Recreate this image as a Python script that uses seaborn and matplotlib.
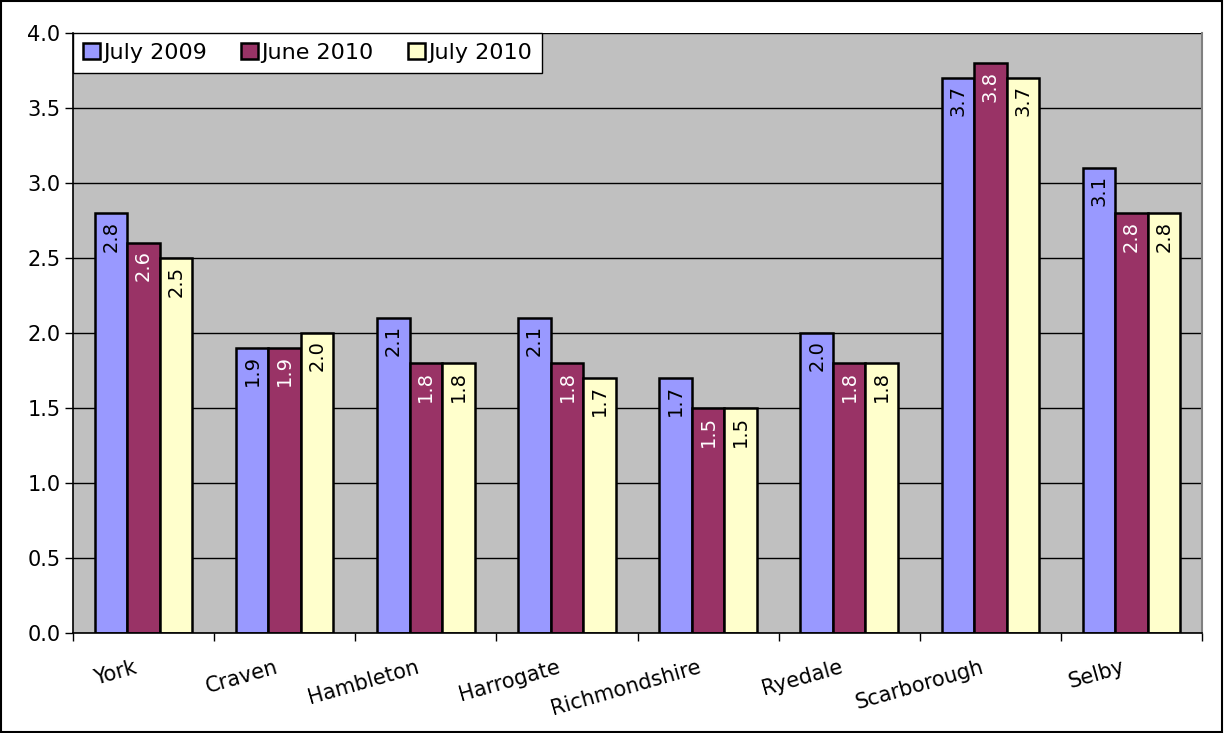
import matplotlib

matplotlib.use("Agg")
import matplotlib.pyplot as plt  # noqa: E402
import pandas as pd  # noqa: E402
import seaborn as sns  # noqa: E402
from matplotlib.patches import Rectangle  # noqa: E402

districts = ["York", "Craven", "Hambleton", "Harrogate", "Richmondshire",
             "Ryedale", "Scarborough", "Selby"]
periods = ["July 2009", "June 2010", "July 2010"]
july_2009 = [2.8, 1.9, 2.1, 2.1, 1.7, 2.0, 3.7, 3.1]
june_2010 = [2.6, 1.9, 1.8, 1.8, 1.5, 1.8, 3.8, 2.8]
july_2010 = [2.5, 2.0, 1.8, 1.7, 1.5, 1.8, 3.7, 2.8]
colors = ["#9999FF", "#993366", "#FFFFCC"]
label_colors = ["black", "white", "black"]

df = pd.DataFrame({
    "district": districts * 3,
    "period": [p for p in periods for _ in districts],
    "rate": july_2009 + june_2010 + july_2010,
})

sns.set_style("white")
plt.rcParams["font.family"] = ["DejaVu Sans"]
plt.rcParams["text.color"] = "black"
plt.rcParams["xtick.color"] = "black"
plt.rcParams["ytick.color"] = "black"

fig = plt.figure(figsize=(12.24, 7.33), dpi=100)
ax = fig.add_axes([73 / 1224, 100 / 733, (1202 - 73) / 1224, 600 / 733])
sns.barplot(data=df, x="district", y="rate", hue="period", order=districts,
            hue_order=periods, palette=colors, width=0.69, edgecolor="black",
            linewidth=1.8, saturation=1, ax=ax, legend=True)

ax.set_facecolor("#C0C0C0")
ax.set_ylim(0, 4.0)
ax.set_xlim(-0.5, len(districts) - 0.5)
ax.set_yticks([i * 0.5 for i in range(9)])
ax.set_yticklabels([f"{i * 0.5:.1f}" for i in range(9)], fontsize=15)
ax.yaxis.grid(True, color="black", linewidth=1)
ax.set_axisbelow(True)
ax.tick_params(axis="y", left=True, length=6, width=1, pad=3)

# category ticks sit between the groups
ax.set_xticks([i - 0.5 for i in range(len(districts) + 1)], minor=True)
ax.tick_params(axis="x", which="minor", bottom=True, length=6, width=1)
ax.tick_params(axis="x", which="major", bottom=False, pad=14)
ax.set_xticks([i - 0.07 for i in range(len(districts))])
ax.set_xticklabels(districts, fontsize=15, rotation=16, ha="right",
                   rotation_mode="anchor")
ax.set_xlabel("")
ax.set_ylabel("")

for side in ["left", "bottom"]:
    ax.spines[side].set_color("black")
    ax.spines[side].set_linewidth(1.2)
ax.spines["right"].set_color("#808080")
ax.spines["right"].set_linewidth(1.5)
ax.spines["top"].set_visible(False)

for container, tcol in zip(ax.containers, label_colors):
    for patch in container:
        h = patch.get_height()
        ax.text(patch.get_x() + patch.get_width() / 2, h - 0.05, f"{h:.1f}",
                rotation=90, ha="center", va="top", fontsize=14, color=tcol)

leg = ax.legend(loc="upper left", bbox_to_anchor=(0, 1), ncol=3, fontsize=16,
                frameon=True, fancybox=False, borderaxespad=0,
                handlelength=0.75, handleheight=0.75, handletextpad=0.15,
                columnspacing=1.55, borderpad=0.45)
leg.get_frame().set_edgecolor("black")
leg.get_frame().set_linewidth(1)
leg.get_frame().set_facecolor("white")
leg.get_frame().set_alpha(1)

fig.patches.append(Rectangle((0.001, 0.001), 0.997, 0.997, transform=fig.transFigure,
                             fill=False, edgecolor="black", linewidth=1.5))

fig.savefig("out.png", dpi=100)
plt.close(fig)
